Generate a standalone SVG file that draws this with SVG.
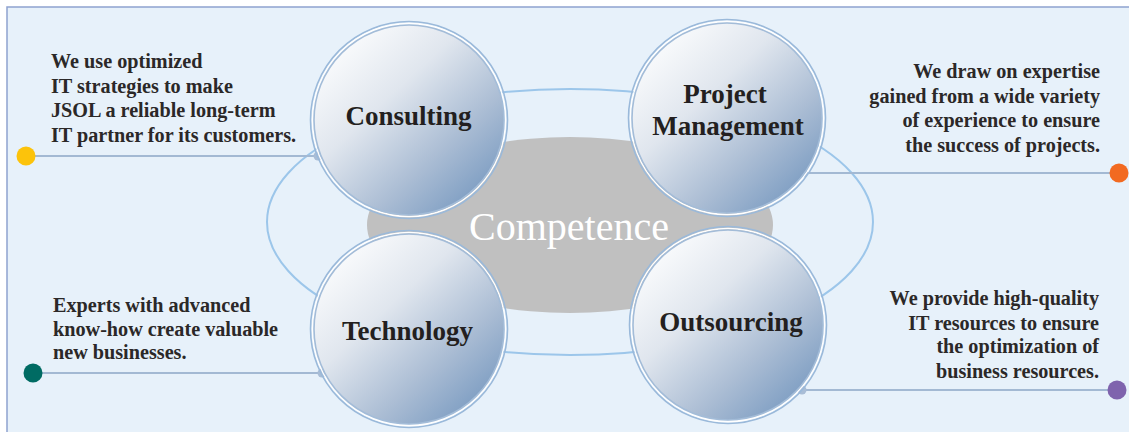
<svg xmlns="http://www.w3.org/2000/svg" width="1129" height="432" viewBox="0 0 1129 432">
  <defs>
    <linearGradient id="ballFill" x1="0.12" y1="0.1" x2="0.88" y2="0.92">
      <stop offset="0" stop-color="#fbfcfd"/>
      <stop offset="0.35" stop-color="#e0e6ee"/>
      <stop offset="0.7" stop-color="#abbdd4"/>
      <stop offset="1" stop-color="#7a9bc1"/>
    </linearGradient>
    <style>
      .panel { fill: #e7f1fa; stroke: #8ea2d0; stroke-width: 1.5; }
      .orbit { fill: none; stroke: #9cc6ea; stroke-width: 2; }
      .core { fill: #c0c0c0; }
      .core-label { font-family: "Liberation Serif", "Times New Roman", serif; font-size: 40px; fill: #ffffff; text-anchor: middle; }
      .ring-outer { fill: none; stroke: #9ab9da; stroke-width: 1.6; }
      .ring-gap { fill: none; stroke: #ffffff; stroke-width: 1.4; }
      .ball { fill: url(#ballFill); stroke: #a3bcd8; stroke-width: 1.6; }
      .ball-label { font-family: "Liberation Serif", "Times New Roman", serif; font-weight: bold; font-size: 27px; fill: #231f20; text-anchor: middle; }
      .note { font-family: "Liberation Serif", "Times New Roman", serif; font-weight: bold; font-size: 20.2px; fill: #2b2828; }
      .note-r { text-anchor: end; }
      .leader { stroke: #a3b9d3; stroke-width: 2; fill: none; }
      .knob { fill: #a9bdd6; }
    </style>
  </defs>

  <!-- panel background -->
  <rect class="panel" x="7" y="7" width="1140" height="440"/>

  <!-- orbit and core -->
  <ellipse class="orbit" cx="570" cy="222" rx="303" ry="133"/>
  <ellipse class="core" cx="570" cy="225" rx="203" ry="88"/>
  <text class="core-label" x="569" y="240">Competence</text>

  <!-- connectors to side notes -->
  <g id="connectors">
    <line class="leader" x1="26" y1="156" x2="318" y2="156"/>
    <line class="leader" x1="803" y1="173" x2="1119" y2="173"/>
    <line class="leader" x1="33" y1="373" x2="322" y2="373"/>
    <line class="leader" x1="802" y1="390" x2="1117" y2="390"/>
    <circle class="knob" cx="318" cy="156" r="4.5"/>
    <circle class="knob" cx="803" cy="173" r="4.5"/>
    <circle class="knob" cx="322" cy="373" r="4.5"/>
    <circle class="knob" cx="802" cy="390" r="4.5"/>
    <circle cx="26" cy="156" r="9.5" fill="#fcc30b"/>
    <circle cx="1119" cy="173" r="9.5" fill="#f26a21"/>
    <circle cx="33" cy="373" r="9.5" fill="#006b63"/>
    <circle cx="1117" cy="390" r="9.5" fill="#7f63ad"/>
  </g>

  <!-- competence spheres -->
  <g id="consulting">
    <circle class="ring-outer" cx="409" cy="120" r="98.5"/>
    <circle class="ring-gap" cx="409" cy="120" r="96.5"/>
    <circle class="ball" cx="409" cy="120" r="95"/>
    <text class="ball-label" x="408.5" y="125">Consulting</text>
  </g>
  <g id="project-management">
    <circle class="ring-outer" cx="727" cy="118" r="98.5"/>
    <circle class="ring-gap" cx="727" cy="118" r="96.5"/>
    <circle class="ball" cx="727" cy="118" r="95"/>
    <text class="ball-label" x="725" y="103">Project</text>
    <text class="ball-label" x="728" y="135">Management</text>
  </g>
  <g id="technology">
    <circle class="ring-outer" cx="409" cy="329" r="98.5"/>
    <circle class="ring-gap" cx="409" cy="329" r="96.5"/>
    <circle class="ball" cx="409" cy="329" r="95"/>
    <text class="ball-label" x="407.5" y="340">Technology</text>
  </g>
  <g id="outsourcing">
    <circle class="ring-outer" cx="728" cy="325" r="98.5"/>
    <circle class="ring-gap" cx="728" cy="325" r="96.5"/>
    <circle class="ball" cx="728" cy="325" r="95"/>
    <text class="ball-label" x="731" y="331">Outsourcing</text>
  </g>

  <!-- side notes -->
  <g id="note-consulting">
    <text class="note" x="51" y="68">We use optimized</text>
    <text class="note" x="51" y="93">IT strategies to make</text>
    <text class="note" x="51" y="117">JSOL a reliable long-term</text>
    <text class="note" x="51" y="142">IT partner for its customers.</text>
  </g>
  <g id="note-project-management">
    <text class="note note-r" x="1100" y="78">We draw on expertise</text>
    <text class="note note-r" x="1100" y="103">gained from a wide variety</text>
    <text class="note note-r" x="1100" y="127">of experience to ensure</text>
    <text class="note note-r" x="1100" y="152">the success of projects.</text>
  </g>
  <g id="note-technology">
    <text class="note" x="53" y="312">Experts with advanced</text>
    <text class="note" x="53" y="336">know-how create valuable</text>
    <text class="note" x="53" y="359">new businesses.</text>
  </g>
  <g id="note-outsourcing">
    <text class="note note-r" x="1099" y="305">We provide high-quality</text>
    <text class="note note-r" x="1099" y="330">IT resources to ensure</text>
    <text class="note note-r" x="1099" y="353">the optimization of</text>
    <text class="note note-r" x="1099" y="378">business resources.</text>
  </g>
</svg>
